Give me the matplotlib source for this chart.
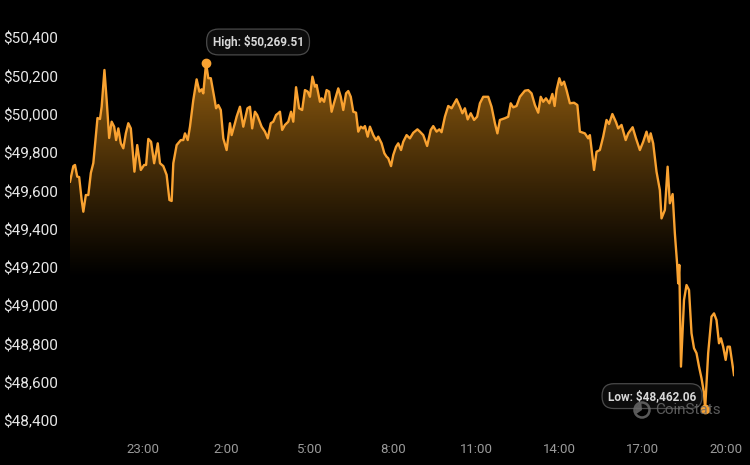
import matplotlib.pyplot as plt
import numpy as np
from matplotlib.patches import Circle, Wedge
from matplotlib.transforms import IdentityTransform

plt.rcParams['font.family'] = ['Roboto', 'DejaVu Sans']

# hours since midnight of the first day (24 h window)
hours = [20.37, 20.49, 20.55, 20.63, 20.70, 20.79, 20.85, 20.94, 21.03, 21.12,
         21.21, 21.36, 21.45, 21.51, 21.61, 21.69, 21.78, 21.87, 21.96, 22.03,
         22.11, 22.20, 22.29, 22.38, 22.47, 22.56, 22.69, 22.79, 22.92, 23.04,
         23.11, 23.19, 23.29, 23.40, 23.53, 23.61, 23.73, 23.85, 23.95, 24.03,
         24.09, 24.21, 24.36, 24.45, 24.51, 24.61, 24.69, 24.81, 24.93, 25.03,
         25.11, 25.17, 25.27, 25.35, 25.44, 25.56, 25.63, 25.71, 25.80, 25.89,
         26.01, 26.13, 26.19, 26.31, 26.37, 26.49, 26.61, 26.76, 26.85, 26.93,
         27.03, 27.11, 27.27, 27.39, 27.49, 27.60, 27.69, 27.79, 27.87, 27.93,
         28.01, 28.11, 28.23, 28.33, 28.41, 28.51, 28.62, 28.73, 28.83, 28.93,
         29.01, 29.10, 29.19, 29.25, 29.37, 29.43, 29.52, 29.61, 29.70, 29.79,
         29.89, 30.03, 30.12, 30.21, 30.31, 30.39, 30.48, 30.57, 30.67, 30.75,
         30.84, 30.93, 30.99, 31.09, 31.17, 31.29, 31.39, 31.47, 31.59, 31.69,
         31.77, 31.83, 31.93, 32.01, 32.11, 32.19, 32.29, 32.37, 32.49, 32.61,
         32.73, 32.88, 32.97, 33.09, 33.23, 33.36, 33.45, 33.57, 33.67, 33.75,
         33.87, 33.99, 34.11, 34.29, 34.41, 34.50, 34.59, 34.69, 34.80, 34.92,
         35.03, 35.13, 35.25, 35.43, 35.55, 35.67, 35.76, 35.85, 36.03, 36.15,
         36.24, 36.33, 36.45, 36.57, 36.75, 36.87, 36.99, 37.11, 37.23, 37.32,
         37.41, 37.51, 37.63, 37.74, 37.82, 37.89, 37.99, 38.07, 38.16, 38.25,
         38.37, 38.52, 38.64, 38.73, 38.91, 39.03, 39.09, 39.24, 39.33, 39.45,
         39.57, 39.69, 39.78, 39.90, 40.03, 40.11, 40.23, 40.38, 40.47, 40.63,
         40.75, 40.89, 41.01, 41.13, 41.22, 41.28, 41.37, 41.49, 41.61, 41.67,
         41.79, 41.89, 41.97, 42.07, 42.15, 42.23, 42.27, 42.31, 42.37, 42.48,
         42.57, 42.66, 42.75, 42.84, 42.93, 43.02, 43.11, 43.20, 43.24, 43.35,
         43.47, 43.56, 43.65, 43.74, 43.81, 43.89, 43.98, 44.05, 44.13, 44.28]

prices = [49650, 49731, 49737, 49676, 49674, 49554, 49493, 49580, 49580, 49695,
          49747, 49982, 49977, 50041, 50233, 50076, 49878, 49963, 49937, 49867,
          49928, 49850, 49824, 49902, 49955, 49928, 49702, 49841, 49711, 49737,
          49737, 49873, 49858, 49746, 49850, 49746, 49731, 49685, 49554, 49549,
          49746, 49841, 49867, 49867, 49902, 49867, 49937, 50076, 50184, 50120,
          50132, 50111, 50269.51, 50190, 50190, 50093, 50033, 50050, 50024, 49876,
          49815, 49955, 49893, 49955, 49989, 50041, 49937, 50033, 50041, 49928,
          50015, 49998, 49937, 49911, 49876, 49955, 49963, 49998, 50007, 50015,
          49920, 49946, 49963, 50015, 49963, 50143, 50033, 50024, 50128, 50120,
          50093, 50198, 50146, 50155, 50067, 50085, 50067, 50128, 50120, 50015,
          50067, 50137, 50093, 50024, 50111, 50123, 50093, 50015, 50010, 49911,
          49937, 49928, 49940, 49885, 49937, 49893, 49867, 49885, 49850, 49798,
          49780, 49772, 49731, 49789, 49832, 49850, 49815, 49858, 49893, 49876,
          49905, 49923, 49911, 49893, 49836, 49920, 49940, 49911, 49923, 49908,
          49989, 50045, 50033, 50080, 50041, 50007, 50033, 49975, 50007, 49972,
          49989, 50059, 50093, 50093, 50041, 49955, 49902, 49972, 49981, 49989,
          50059, 50038, 50045, 50093, 50125, 50128, 50111, 50050, 50010, 50093,
          50067, 50085, 50059, 50108, 50045, 50128, 50190, 50155, 50172, 50128,
          50059, 50062, 50050, 49911, 49902, 49876, 49893, 49711, 49806, 49815,
          49885, 49972, 49951, 50003, 49961, 49928, 49946, 49867, 49902, 49934,
          49876, 49815, 49858, 49911, 49858, 49902, 49850, 49702, 49606, 49458,
          49502, 49728, 49537, 49585, 49380, 49224, 49119, 49215, 48684, 49032,
          49110, 49084, 48858, 48780, 48754, 48684, 48623, 48545, 48462.06, 48754,
          48945, 48962, 48927, 48806, 48832, 48788, 48719, 48788, 48788, 48640]

yticks = list(range(48400, 50401, 200))
xticks = [23, 26, 29, 32, 35, 38, 41, 44]
xlabels = ['23:00', '2:00', '5:00', '8:00', '11:00', '14:00', '17:00', '20:00']

line_color = '#f9a231'
ylo, yhi = 48353, 50494

fig = plt.figure(figsize=(7.5, 4.65), dpi=100, facecolor='black')
ax = fig.add_axes([70 / 750, 35 / 465, 664 / 750, 410 / 465])
ax.set_facecolor('black')

# gradient fill under the line
levels = np.linspace(ylo, yhi, 300)
v = np.clip((levels - 49150) / (50300 - 49150), 0, 1) ** 1.1
top_rgb = np.array([0.58, 0.37, 0.06])
img = (v[:, None, None] * top_rgb[None, None, :]) * np.ones((1, 2, 1))
fill = ax.fill_between(hours, prices, ylo, color='none', lw=0)
im = ax.imshow(img, extent=(hours[0], hours[-1], ylo, yhi), origin='lower',
               aspect='auto', interpolation='bilinear', zorder=1)
im.set_clip_path(fill.get_paths()[0], transform=ax.transData)

ax.plot(hours, prices, color=line_color, lw=1.7, zorder=3, solid_joinstyle='round')

ax.set_xlim(hours[0], hours[-1])
ax.set_ylim(ylo, yhi)
for s in ax.spines.values():
    s.set_visible(False)

ax.set_yticks(yticks)
ax.set_yticklabels([f'${v:,}' for v in yticks])
ax.set_xticks(xticks)
ax.set_xticklabels(xlabels)
ax.tick_params(axis='y', length=0, pad=8.5, labelsize=11, labelcolor='#e8e8e8')
ax.tick_params(axis='x', length=0, pad=9, labelsize=9.5, labelcolor='#9a9a9a')

# watermark
wm = '#6a6a6a'
fig.text(655 / 750, 1 - 410 / 465, 'CoinStats', color=wm, fontsize=11,
         va='center', ha='left', alpha=0.85)
fig.patches.append(Circle((642, 55), 7.5, transform=IdentityTransform(),
                          fill=False, ec=wm, lw=1.8, alpha=0.85))
fig.patches.append(Wedge((642, 55), 6.5, 95, 215, transform=IdentityTransform(),
                         fc=wm, ec='none', alpha=0.85))

# high / low markers
i_hi = int(np.argmax(prices))
i_lo = int(np.argmin(prices))
box = dict(boxstyle='round,pad=0.5,rounding_size=1.0', fc='#0c0c0c', ec='#4a4a4a', lw=0.9)
for i, label, off in [(i_hi, f'High: ${prices[i_hi]:,.2f}', (52, 21)),
                      (i_lo, f'Low: ${prices[i_lo]:,.2f}', (-53, 13))]:
    ax.plot(hours[i], prices[i], 'o', color=line_color, ms=6, zorder=5)
    ax.annotate(label, (hours[i], prices[i]), xytext=off, textcoords='offset pixels',
                ha='center', va='center', fontsize=8.5, fontweight='bold', color='#d8d8d8',
                bbox=box, zorder=6)

plt.savefig('out.png', facecolor='black')
